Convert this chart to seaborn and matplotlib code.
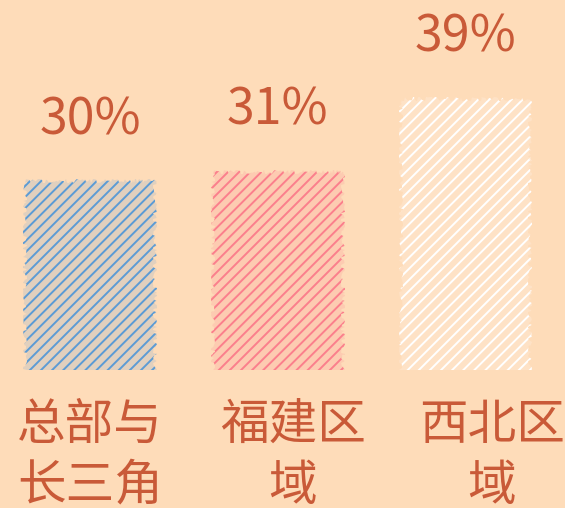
import numpy as np
import pandas as pd
import matplotlib
import matplotlib.pyplot as plt
import seaborn as sns

regions = ['总部与\n长三角', '福建区\n域', '西北区\n域']
shares = [30, 31, 39]
bar_colors = ['#5b9bd5', '#fb7f8c', '#ffffff']

bg = '#fedcb9'
txt = '#c95a38'

sns.set_theme(style='white')
plt.rcParams['font.family'] = ['Noto Sans CJK SC', 'DejaVu Sans']
plt.rcParams['hatch.linewidth'] = 1.4

df = pd.DataFrame({'region': regions, 'share': shares})

fig = plt.figure(figsize=(5.65, 5.08), dpi=100, facecolor=bg)
ax = fig.add_axes([0, 0.272, 1, 0.728])
ax.set_facecolor(bg)

sns.barplot(data=df, x='region', y='share', hue='region', palette=bar_colors,
            legend=False, width=0.69, ax=ax, saturation=1)

# sketchy look: mostly background with slanted strokes in the bar colour
for p, c in zip(ax.patches, bar_colors):
    rgb = np.array(matplotlib.colors.to_rgb(c))
    base = np.array(matplotlib.colors.to_rgb(bg))
    p.set_facecolor(tuple(base * 0.82 + rgb * 0.18))
    p.set_edgecolor(c)
    p.set_hatch('///')
    p.set_linewidth(0)
    p.set_sketch_params(scale=2, length=20, randomness=30)

for i, v in enumerate(shares):
    ax.annotate(f'{v}%', (i, v), xytext=(0, 44), textcoords='offset points',
                ha='center', va='center', fontsize=36, color=txt)

ax.set_xlim(-0.48, 2.53)
ax.set_ylim(9.37, 49.8)
ax.set_xlabel('')
ax.set_ylabel('')
ax.set_yticks([])
# labels sit slightly right of the bars in the reference
ax.set_xticks([0, 1.08, 2.14])
ax.set_xticklabels(regions)
ax.tick_params(axis='x', length=0, pad=22, labelsize=35, labelcolor=txt)
for lab in ax.get_xticklabels():
    lab.set_linespacing(1.3)
for s in ax.spines.values():
    s.set_visible(False)

fig.savefig('out.png', dpi=100, facecolor=bg)
